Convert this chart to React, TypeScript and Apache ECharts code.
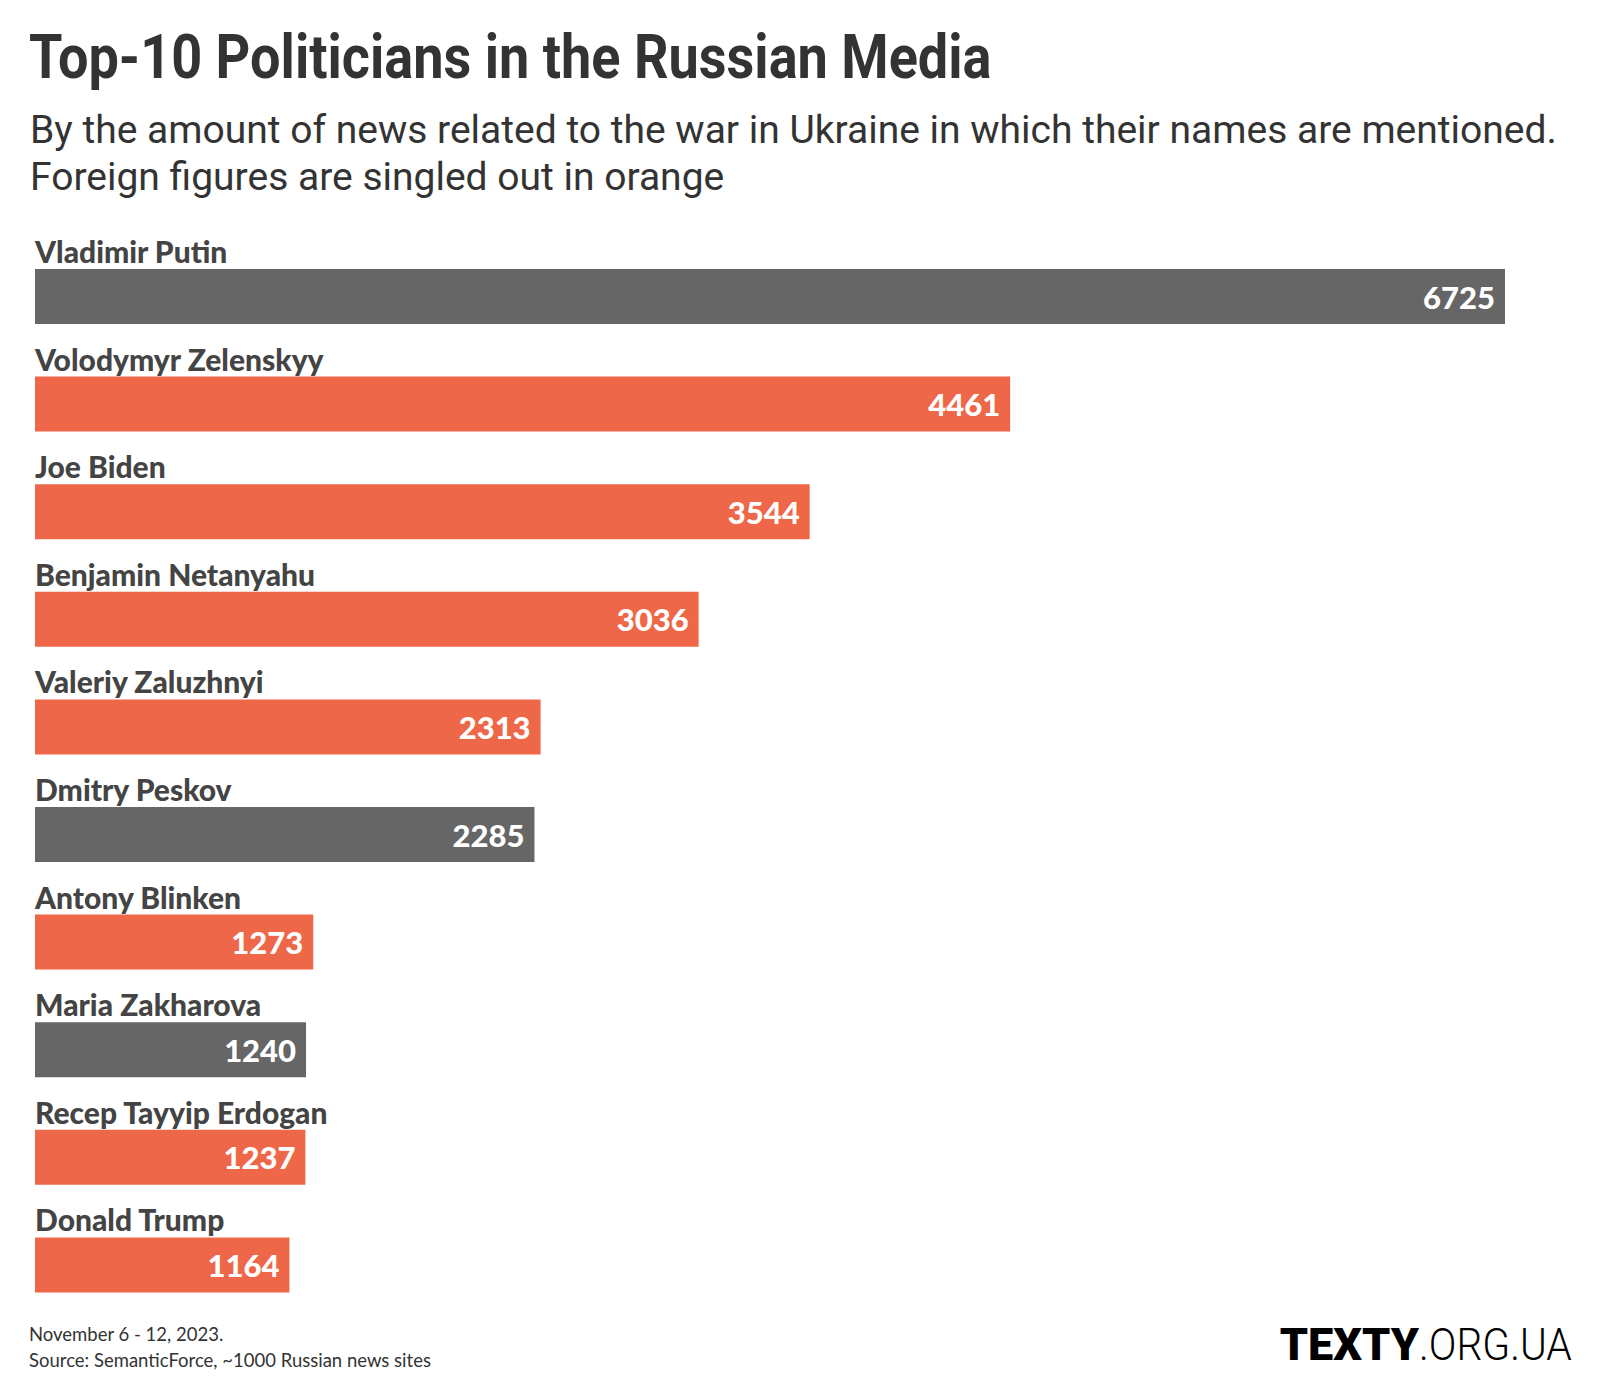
import React, { useEffect, useRef } from "react";
import * as echarts from "echarts";

const names = [
  "Vladimir Putin",
  "Volodymyr Zelenskyy",
  "Joe Biden",
  "Benjamin Netanyahu",
  "Valeriy Zaluzhnyi",
  "Dmitry Peskov",
  "Antony Blinken",
  "Maria Zakharova",
  "Recep Tayyip Erdogan",
  "Donald Trump",
];
const values = [6725, 4461, 3544, 3036, 2313, 2285, 1273, 1240, 1237, 1164];
const foreign = [false, true, true, true, true, false, true, false, true, true];

const TITLE = "Top-10 Politicians in the Russian Media";
const SUB1 = "By the amount of news related to the war in Ukraine in which their names are mentioned.";
const SUB2 = "Foreign figures are singled out in orange";
const NOTE1 = "November 6 - 12, 2023.";
const NOTE2 = "Source: SemanticForce, ~1000 Russian news sites";
const LOGO_BOLD = "TEXTY";
const LOGO_LIGHT = ".ORG.UA";

const GRAY = "#666666";
const ORANGE = "#EE6748";

function measure(text: string, font: string): number {
  const ctx = document.createElement("canvas").getContext("2d")!;
  ctx.font = font;
  return ctx.measureText(text).width;
}

export default function App() {
  const ref = useRef<HTMLDivElement>(null);
  useEffect(() => {
    document.body.style.margin = "0";
    const chart = echarts.init(ref.current!, null, { renderer: "svg" });

    const titleFont = "bold 62px Roboto";
    const titleScale = 963 / measure(TITLE, titleFont);
    const subFont = "38px Roboto";
    const subScale = 1528 / measure(SUB1, subFont);
    const lightFont = "300 45px Roboto";
    const lightW = 153;
    const lightScale = lightW / measure(LOGO_LIGHT, lightFont);
    const logoRight = 1572;

    chart.setOption({
      animation: false,
      backgroundColor: "#ffffff",
      grid: { left: 35, right: 95, top: 242.7, bottom: 81.3, containLabel: false },
      xAxis: { type: "value", min: 0, max: 6725, show: false },
      yAxis: { type: "category", data: names, inverse: true, show: false },
      series: [
        {
          type: "bar",
          barWidth: 55,
          data: values.map((v, i) => ({
            value: v,
            itemStyle: { color: foreign[i] ? ORANGE : GRAY },
          })),
          label: {
            show: true,
            position: "insideRight",
            distance: 10,
            color: "#ffffff",
            fontFamily: "Lato",
            fontWeight: 900,
            fontSize: 31,
          },
          silent: true,
        },
        {
          type: "bar",
          barWidth: 55,
          barGap: "-100%",
          data: values,
          itemStyle: { color: "rgba(0,0,0,0)" },
          label: {
            show: true,
            position: [0, -3],
            align: "left",
            verticalAlign: "bottom",
            formatter: (p: any) => names[p.dataIndex],
            color: "#444444",
            fontFamily: "Lato",
            fontWeight: 900,
            fontSize: 30,
          },
          silent: true,
        },
      ],
      graphic: [
        {
          type: "text",
          x: 29,
          y: 57,
          scaleX: titleScale,
          style: {
            text: TITLE,
            x: 0,
            y: 0,
            font: titleFont,
            fill: "#333333",
            verticalAlign: "middle",
          },
        },
        {
          type: "text",
          x: 30,
          y: 130,
          scaleX: subScale,
          style: {
            text: SUB1,
            x: 0,
            y: 0,
            font: subFont,
            fill: "#333333",
            verticalAlign: "middle",
          },
        },
        {
          type: "text",
          x: 30,
          y: 177,
          scaleX: subScale,
          style: {
            text: SUB2,
            x: 0,
            y: 0,
            font: subFont,
            fill: "#333333",
            verticalAlign: "middle",
          },
        },
        {
          type: "text",
          x: 29,
          y: 1334,
          style: {
            text: NOTE1,
            font: "18.5px Lato",
            fill: "#333333",
            verticalAlign: "middle",
          },
        },
        {
          type: "text",
          x: 29,
          y: 1360,
          style: {
            text: NOTE2,
            font: "18.5px Lato",
            fill: "#333333",
            verticalAlign: "middle",
          },
        },
        {
          type: "text",
          x: logoRight - lightW,
          y: 1344,
          style: {
            text: LOGO_BOLD,
            font: "900 45px Roboto",
            fill: "#000000",
            align: "right",
            verticalAlign: "middle",
          },
        },
        {
          type: "text",
          x: logoRight - lightW,
          y: 1344,
          scaleX: lightScale,
          style: {
            text: LOGO_LIGHT,
            x: 0,
            y: 0,
            font: lightFont,
            fill: "#000000",
            align: "left",
            verticalAlign: "middle",
          },
        },
      ],
    });
    return () => chart.dispose();
  }, []);
  return <div ref={ref} style={{ width: 1600, height: 1400 }} />;
}
